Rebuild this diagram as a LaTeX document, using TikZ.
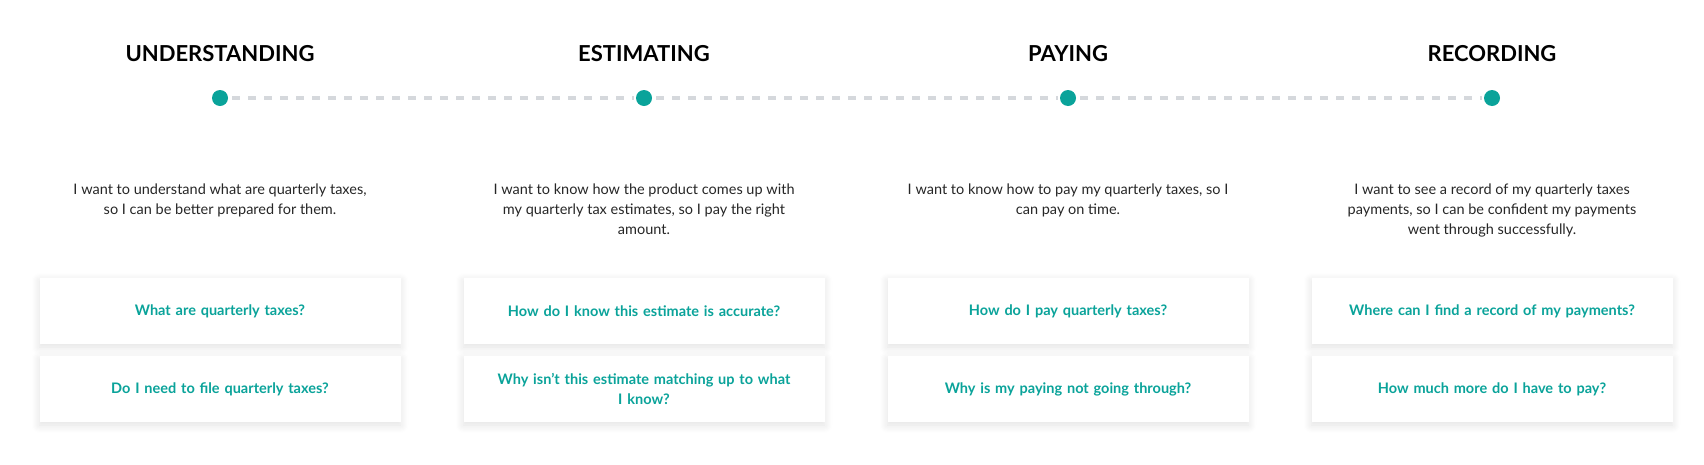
\documentclass[tikz,border=0pt]{standalone}
\usepackage{fontspec}
\setmainfont{Lato}
\usetikzlibrary{shadows.blur}
\definecolor{teal1}{HTML}{0AA39A}
\definecolor{dashgray}{HTML}{D5D8DC}
\tikzset{
  x=1pt,y=-1pt,
  title/.style={font=\fontsize{22}{26}\selectfont\bfseries,text=black},
  dot/.style={circle,fill=teal1,minimum size=16pt,inner sep=0pt},
  desc/.style={font=\fontsize{14.5}{20}\selectfont,align=center,text=black!85},
  qbox/.style={fill=white,minimum width=361pt,minimum height=66pt,align=center,text width=330pt,
    font=\fontsize{14.5}{20}\selectfont\bfseries,text=teal1,
    blur shadow={shadow xshift=0pt,shadow yshift=-3pt,shadow blur steps=8,shadow opacity=12,shadow blur radius=8pt}},
  track/.style={dashgray,line width=4pt,dash pattern=on 8pt off 8pt}
}
\begin{document}
\begin{tikzpicture}
\useasboundingbox (0,0) rectangle (1704,464);
\node[title] (t1) at (220,54) {UNDERSTANDING};
\node[title] (t2) at (644,54) {ESTIMATING};
\node[title] (t3) at (1068,54) {PAYING};
\node[title] (t4) at (1492,54) {RECORDING};
\node[dot] (d1) at (220,98) {};
\node[dot] (d2) at (644,98) {};
\node[dot] (d3) at (1068,98) {};
\node[dot] (d4) at (1492,98) {};
\begin{scope}[on background layer/.style={}]
\end{scope}
\draw[track] (d1.east) ++(4,0) -- ([xshift=-2pt]d2.west);
\draw[track] (d2.east) ++(4,0) -- ([xshift=-2pt]d3.west);
\draw[track] (d3.east) ++(4,0) -- ([xshift=-2pt]d4.west);
\node[desc,anchor=north] (p1) at (220,180) {I want to understand what are quarterly taxes,\\so I can be better prepared for them.};
\node[desc,anchor=north] (p2) at (644,180) {I want to know how the product comes up with\\my quarterly tax estimates, so I pay the right\\amount.};
\node[desc,anchor=north] (p3) at (1068,180) {I want to know how to pay my quarterly taxes, so I\\can pay on time.};
\node[desc,anchor=north] (p4) at (1492,180) {I want to see a record of my quarterly taxes\\payments, so I can be confident my payments\\went through successfully.};
\node[qbox] (a1) at (220,311) {What are quarterly taxes?};
\node[qbox] (b1) at (220,389) {Do I need to file quarterly taxes?};
\node[qbox] (a2) at (644,311) {How do I know this estimate is accurate?};
\node[qbox] (b2) at (644,389) {Why isn't this estimate matching up to what\\I know?};
\node[qbox] (a3) at (1068,311) {How do I pay quarterly taxes?};
\node[qbox] (b3) at (1068,389) {Why is my paying not going through?};
\node[qbox] (a4) at (1492,311) {Where can I find a record of my payments?};
\node[qbox] (b4) at (1492,389) {How much more do I have to pay?};
\end{tikzpicture}
\end{document}
